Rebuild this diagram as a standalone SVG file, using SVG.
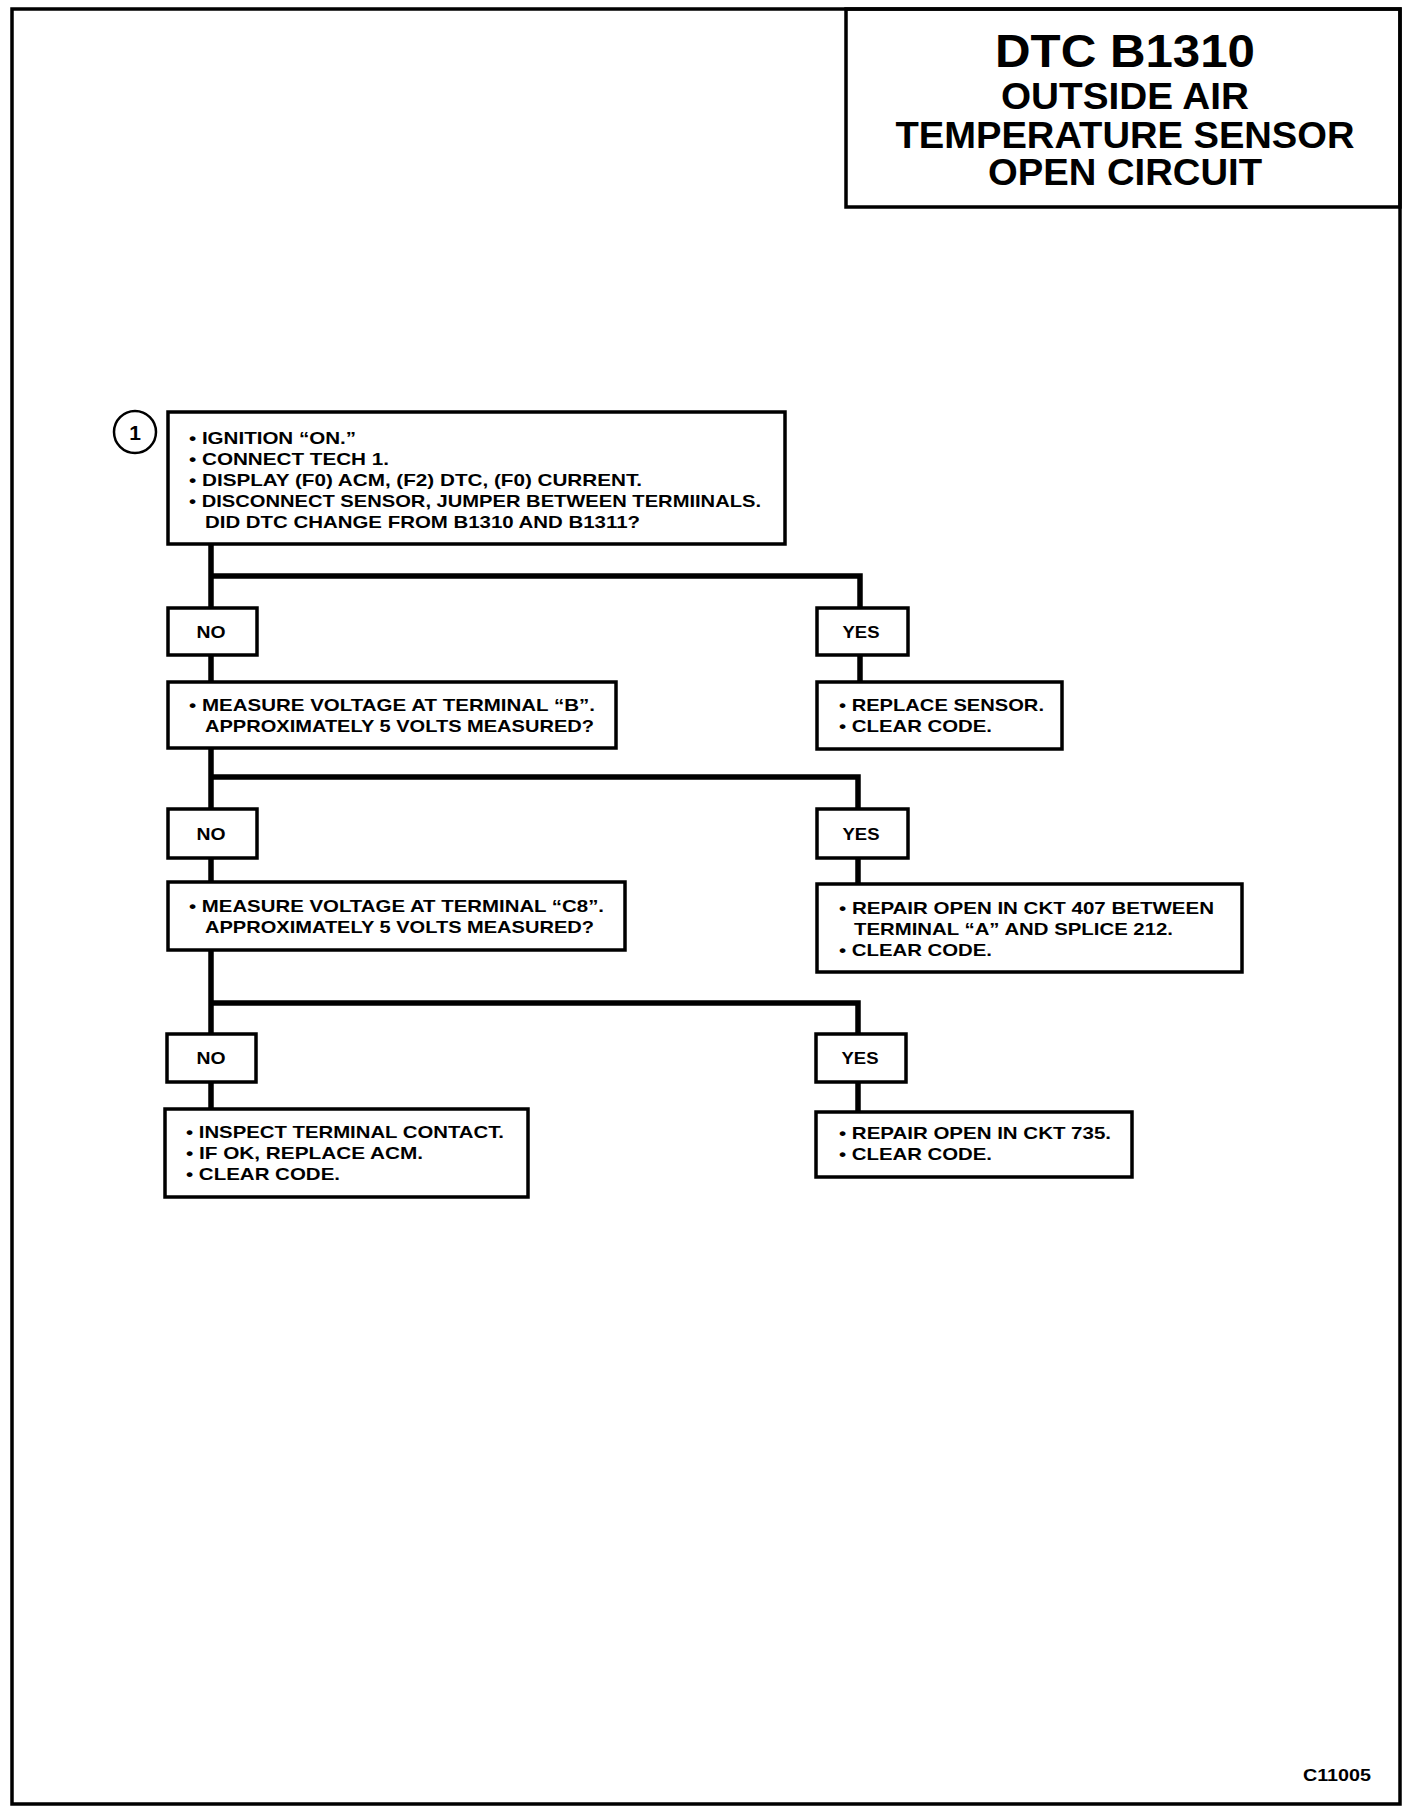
<svg xmlns="http://www.w3.org/2000/svg" width="1424" height="1812" viewBox="0 0 1424 1812">
<style>
.box{fill:#fff;stroke:#000;stroke-width:3.5}
.wire{fill:none;stroke:#000;stroke-width:5.5;stroke-linejoin:miter;stroke-linecap:square}
.t{font-family:"Liberation Sans",Arial,sans-serif;font-weight:bold;font-size:17px;fill:#000}
.lab{font-family:"Liberation Sans",Arial,sans-serif;font-weight:bold;font-size:17px;fill:#000;text-anchor:middle}
.title{font-family:"Liberation Sans",Arial,sans-serif;font-weight:bold;fill:#000;text-anchor:middle}
</style>
<rect width="1424" height="1812" fill="#fff"/>
<rect x="12" y="9" width="1388" height="1795" fill="none" stroke="#000" stroke-width="3.5"/>

<g id="title">
<rect x="846" y="9" width="554" height="198" fill="none" stroke="#000" stroke-width="3.5"/>
<text class="title" x="1125" y="67" font-size="46" textLength="260" lengthAdjust="spacingAndGlyphs">DTC B1310</text>
<text class="title" x="1125" y="109" font-size="36" textLength="248" lengthAdjust="spacingAndGlyphs">OUTSIDE AIR</text>
<text class="title" x="1125" y="148" font-size="36" textLength="459" lengthAdjust="spacingAndGlyphs">TEMPERATURE SENSOR</text>
<text class="title" x="1125" y="185" font-size="36" textLength="274" lengthAdjust="spacingAndGlyphs">OPEN CIRCUIT</text>
</g>

<g id="connectors">
<path class="wire" d="M211 544 V608 M211 576 H860 V608"/>
<path class="wire" d="M211 655 V682 M860 655 V682"/>
<path class="wire" d="M211 748 V809 M211 777 H858 V809"/>
<path class="wire" d="M211 858 V882 M858 858 V884"/>
<path class="wire" d="M211 950 V1034 M211 1003 H858 V1034"/>
<path class="wire" d="M211 1082 V1109 M858 1082 V1112"/>
</g>

<g id="step1">
<circle cx="135" cy="432" r="21" fill="#fff" stroke="#000" stroke-width="2.5"/>
<text class="lab" x="135" y="440" style="font-size:21px">1</text>
</g>

<g id="box1">
<rect class="box" x="168" y="412" width="617" height="132"/>
<text class="t" x="189" y="444" textLength="167" lengthAdjust="spacingAndGlyphs">• IGNITION “ON.”</text>
<text class="t" x="189" y="465" textLength="200" lengthAdjust="spacingAndGlyphs">• CONNECT TECH 1.</text>
<text class="t" x="189" y="486" textLength="453" lengthAdjust="spacingAndGlyphs">• DISPLAY (F0) ACM, (F2) DTC, (F0) CURRENT.</text>
<text class="t" x="189" y="507" textLength="572" lengthAdjust="spacingAndGlyphs">• DISCONNECT SENSOR, JUMPER BETWEEN TERMIINALS.</text>
<text class="t" x="205" y="528" textLength="435" lengthAdjust="spacingAndGlyphs">DID DTC CHANGE FROM B1310 AND B1311?</text>
</g>

<g id="no1">
<rect class="box" x="168" y="608" width="89" height="47"/>
<text class="lab" x="211" y="638" textLength="29" lengthAdjust="spacingAndGlyphs">NO</text>
</g>
<g id="yes1">
<rect class="box" x="817" y="608" width="91" height="47"/>
<text class="lab" x="861" y="638" textLength="37" lengthAdjust="spacingAndGlyphs">YES</text>
</g>

<g id="box2">
<rect class="box" x="168" y="682" width="448" height="66"/>
<text class="t" x="189" y="711" textLength="406" lengthAdjust="spacingAndGlyphs">• MEASURE VOLTAGE AT TERMINAL “B”.</text>
<text class="t" x="205" y="732" textLength="389" lengthAdjust="spacingAndGlyphs">APPROXIMATELY 5 VOLTS MEASURED?</text>
</g>
<g id="replace">
<rect class="box" x="817" y="682" width="245" height="67"/>
<text class="t" x="839" y="711" textLength="205" lengthAdjust="spacingAndGlyphs">• REPLACE SENSOR.</text>
<text class="t" x="839" y="732" textLength="153" lengthAdjust="spacingAndGlyphs">• CLEAR CODE.</text>
</g>

<g id="no2">
<rect class="box" x="168" y="809" width="89" height="49"/>
<text class="lab" x="211" y="840" textLength="29" lengthAdjust="spacingAndGlyphs">NO</text>
</g>
<g id="yes2">
<rect class="box" x="817" y="809" width="91" height="49"/>
<text class="lab" x="861" y="840" textLength="37" lengthAdjust="spacingAndGlyphs">YES</text>
</g>

<g id="box3">
<rect class="box" x="168" y="882" width="457" height="68"/>
<text class="t" x="189" y="912" textLength="415" lengthAdjust="spacingAndGlyphs">• MEASURE VOLTAGE AT TERMINAL “C8”.</text>
<text class="t" x="205" y="933" textLength="389" lengthAdjust="spacingAndGlyphs">APPROXIMATELY 5 VOLTS MEASURED?</text>
</g>
<g id="repair407">
<rect class="box" x="817" y="884" width="425" height="88"/>
<text class="t" x="839" y="914" textLength="375" lengthAdjust="spacingAndGlyphs">• REPAIR OPEN IN CKT 407 BETWEEN</text>
<text class="t" x="854" y="935" textLength="319" lengthAdjust="spacingAndGlyphs">TERMINAL “A” AND SPLICE 212.</text>
<text class="t" x="839" y="956" textLength="153" lengthAdjust="spacingAndGlyphs">• CLEAR CODE.</text>
</g>

<g id="no3">
<rect class="box" x="167" y="1034" width="89" height="48"/>
<text class="lab" x="211" y="1064" textLength="29" lengthAdjust="spacingAndGlyphs">NO</text>
</g>
<g id="yes3">
<rect class="box" x="816" y="1034" width="90" height="48"/>
<text class="lab" x="860" y="1064" textLength="37" lengthAdjust="spacingAndGlyphs">YES</text>
</g>

<g id="inspect">
<rect class="box" x="165" y="1109" width="363" height="88"/>
<text class="t" x="186" y="1138" textLength="318" lengthAdjust="spacingAndGlyphs">• INSPECT TERMINAL CONTACT.</text>
<text class="t" x="186" y="1159" textLength="237" lengthAdjust="spacingAndGlyphs">• IF OK, REPLACE ACM.</text>
<text class="t" x="186" y="1180" textLength="154" lengthAdjust="spacingAndGlyphs">• CLEAR CODE.</text>
</g>
<g id="repair735">
<rect class="box" x="816" y="1112" width="316" height="65"/>
<text class="t" x="839" y="1139" textLength="272" lengthAdjust="spacingAndGlyphs">• REPAIR OPEN IN CKT 735.</text>
<text class="t" x="839" y="1160" textLength="153" lengthAdjust="spacingAndGlyphs">• CLEAR CODE.</text>
</g>

<text class="t" x="1371" y="1781" text-anchor="end" style="font-size:16px" textLength="68" lengthAdjust="spacingAndGlyphs">C11005</text>
</svg>
